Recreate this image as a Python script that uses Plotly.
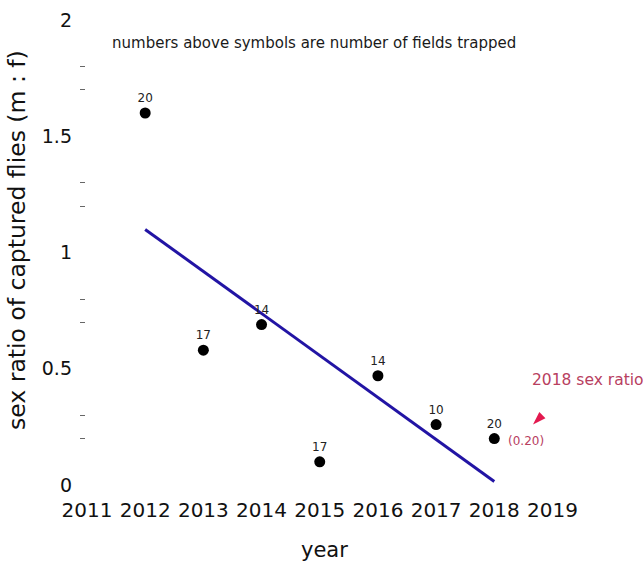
import numpy as np
import plotly.graph_objects as go

# Sex ratio (males : females) of captured flies by year
years = [2012, 2013, 2014, 2015, 2016, 2017, 2018]
sex_ratio = [1.60, 0.58, 0.69, 0.10, 0.47, 0.26, 0.20]
fields_trapped = [20, 17, 14, 17, 14, 10, 20]

x_tick_years = [2011, 2012, 2013, 2014, 2015, 2016, 2017, 2018, 2019]
y_tick_vals = [0, 0.5, 1, 1.5, 2]
y_tick_text = ["0", "0.5", "1", "1.5", "2"]
y_minor_vals = [0.2, 0.3, 0.7, 0.8, 1.2, 1.3, 1.7, 1.8]

FONT = "DejaVu Sans"
LINE_BLUE = "#2214a4"
RED_TEXT = "#b8405f"
ARROW_RED = "#e3194f"

# least-squares trend over the sampled years
slope, intercept = np.polyfit(years, sex_ratio, 1)
trend_x = [years[0], years[-1]]
trend_y = [slope * x + intercept for x in trend_x]

fig = go.Figure()

fig.add_trace(go.Scatter(
    x=trend_x, y=trend_y, mode="lines",
    line=dict(color=LINE_BLUE, width=3),
    hoverinfo="skip", showlegend=False,
))

fig.add_trace(go.Scatter(
    x=years, y=sex_ratio, mode="markers+text",
    marker=dict(color="black", size=11),
    text=[str(n) for n in fields_trapped],
    textposition="top center",
    textfont=dict(family=FONT, size=12, color="#222222"),
    showlegend=False, cliponaxis=False,
))

# arrowhead pointing at the 2018 value
fig.add_trace(go.Scatter(
    x=[2018.665], y=[0.26], mode="markers",
    marker=dict(symbol="arrow", angle=225, size=14, color=ARROW_RED),
    hoverinfo="skip", showlegend=False, cliponaxis=False,
))

annotations = [
    dict(x=2014.9, y=1.90, xref="x", yref="y",
         text="numbers above symbols are number of fields trapped",
         showarrow=False, font=dict(family=FONT, size=15, color="#1a1a1a"),
         xanchor="center", yanchor="middle"),
    dict(x=years[-1], y=sex_ratio[-1], xref="x", yref="y",
         text="(%.2f)" % sex_ratio[-1], showarrow=False,
         xanchor="left", yanchor="middle", xshift=12, yshift=-2,
         font=dict(family=FONT, size=12, color=RED_TEXT)),
    dict(x=2018.61, y=0.452, xref="x", yref="y",
         text="2018 sex ratio", showarrow=False,
         xanchor="left", yanchor="middle",
         font=dict(family=FONT, size=15.5, color=RED_TEXT)),
    dict(x=-0.126, y=0.526, xref="paper", yref="paper",
         text="sex ratio of captured flies (m : f)", textangle=-90,
         showarrow=False, xanchor="center", yanchor="middle",
         font=dict(family=FONT, size=23.5, color="#111111")),
    dict(x=0.489, y=-0.122, xref="paper", yref="paper",
         text="year", showarrow=False, xanchor="center", yanchor="middle",
         font=dict(family=FONT, size=21, color="#111111")),
]

fig.update_layout(
    width=643, height=564,
    margin=dict(l=80, r=62, t=9, b=72),
    paper_bgcolor="white", plot_bgcolor="white",
    font=dict(family=FONT, color="#111111"),
    annotations=annotations,
    xaxis=dict(
        range=[2010.88, 2019.49],
        tickmode="array", tickvals=x_tick_years,
        ticktext=[str(y) for y in x_tick_years],
        tickfont=dict(family=FONT, size=20, color="#111111"),
        showgrid=False, zeroline=False, showline=False, ticks="",
        ticklabelstandoff=4,
    ),
    yaxis=dict(
        range=[-0.03, 2.03],
        tickmode="array", tickvals=y_tick_vals, ticktext=y_tick_text,
        tickfont=dict(family=FONT, size=19, color="#111111"),
        showgrid=False, zeroline=False, showline=False, ticks="",
        ticklabelstandoff=7,
        minor=dict(tickmode="array", tickvals=y_minor_vals,
                   ticks="inside", ticklen=5, tickwidth=1,
                   tickcolor="#666666", showgrid=False),
    ),
)

fig.write_html("out.html")
